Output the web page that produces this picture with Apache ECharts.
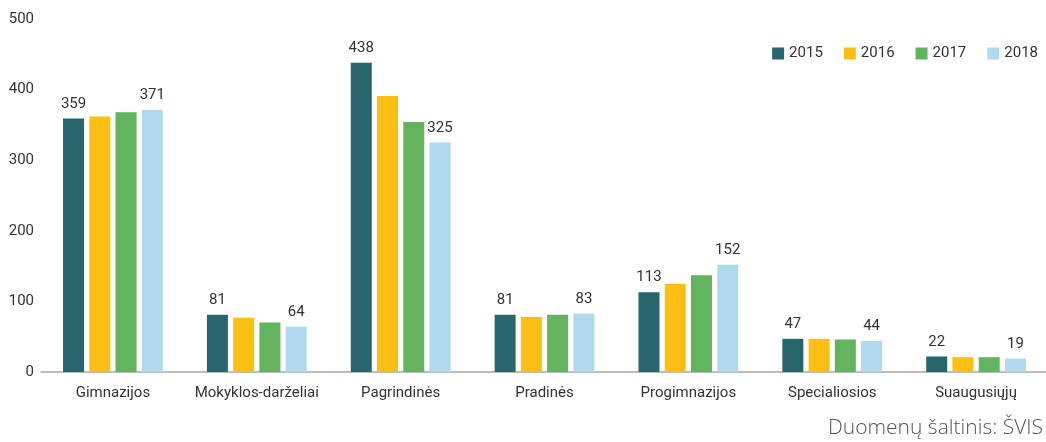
<!DOCTYPE html>
<html>
<head>
<meta charset="utf-8">
<script src="https://cdn.jsdelivr.net/npm/echarts@6/dist/echarts.min.js"></script>
<style>html,body{margin:0;padding:0;background:#fff}#c{width:1046px;height:442px}</style>
</head>
<body>
<div id="c"></div>
<script>
const categories = ['Gimnazijos','Mokyklos-darželiai','Pagrindinės','Pradinės','Progimnazijos','Specialiosios','Suaugusiųjų'];
const years = ['2015','2016','2017','2018'];
const v2015 = [359, 81, 438, 81, 113, 47, 22];
const v2016 = [362, 77, 391, 78, 125, 47, 21];
const v2017 = [368, 70, 354, 81, 137, 46, 21];
const v2018 = [371, 64, 325, 83, 152, 44, 19];
const colors = ['#28666e','#fcbf12','#62b45e','#afd9ec'];
const labelShown = [true, false, false, true];
const FONT = 'Roboto, "Liberation Sans", sans-serif';

const chart = echarts.init(document.getElementById('c'), null, {renderer:'canvas'});
const allVals = [v2015, v2016, v2017, v2018];
chart.setOption({
  animation: false,
  textStyle: {fontFamily: FONT},
  legend: {
    data: years, right: 3, top: 41, itemWidth: 12, itemHeight: 12, itemGap: 21,
    icon: 'rect',
    textStyle: {fontSize: 15, color: '#333', fontFamily: FONT}
  },
  grid: {left: 41, right: -2, top: 19, bottom: 70, containLabel: false, outerBoundsMode: 'none'},
  xAxis: {
    type: 'category', data: categories,
    axisLine: {lineStyle: {color: '#a6a6a6', width: 1.5}},
    axisTick: {show: false},
    axisLabel: {fontSize: 15, color: '#333', margin: 14, interval: 0, fontFamily: FONT}
  },
  yAxis: {
    type: 'value', min: 0, max: 500, interval: 100,
    splitLine: {show: false}, axisLine: {show: false}, axisTick: {show: false},
    axisLabel: {fontSize: 15, color: '#333', margin: 7, fontFamily: FONT}
  },
  graphic: [{
    type: 'text', right: 3, bottom: 3,
    style: {text: 'Duomenų šaltinis: ŠVIS', fontSize: 21, fill: '#555', fontFamily: '"Open Sans", sans-serif', fontWeight: 300}
  }],
  series: years.map((y, i) => ({
    name: y, type: 'bar', data: allVals[i], barWidth: 21, barGap: '25%',
    itemStyle: {color: colors[i]},
    label: {show: labelShown[i], position: 'top', distance: 7, fontSize: 15, color: '#333', fontFamily: FONT}
  }))
});
</script>
</body>
</html>
